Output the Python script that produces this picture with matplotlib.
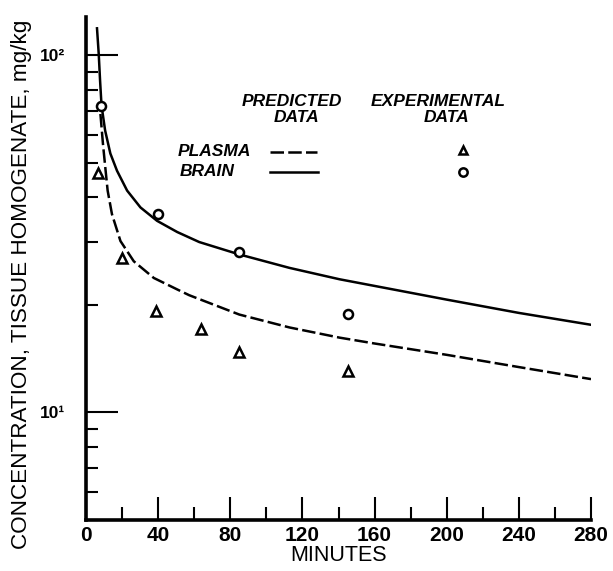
import matplotlib
matplotlib.use("Agg")
import matplotlib.pyplot as plt
from matplotlib.ticker import LogLocator, FixedLocator, NullFormatter, FixedFormatter
import numpy as np

# ---- data ----
brain_t = [6.1, 7.05, 7.8, 8.6, 10.6, 13.5, 17.2, 22.8, 30.2, 39.4, 50.6, 62.8, 85, 112.8, 140.6, 200, 240, 280]
brain_pred = [119, 101, 85, 72.4, 61.6, 53.1, 47.5, 41.8, 37.5, 34.4, 32.0, 30.0, 27.7, 25.4, 23.6, 20.7, 19.0, 17.6]

plasma_t = [8.0, 9.4, 10.7, 12.0, 14.4, 19.1, 26.5, 37.6, 50.6, 57.2, 85, 112.8, 140.6, 160, 200, 240, 280]
plasma_pred = [68.5, 56.5, 48.5, 41.8, 35.9, 30.2, 26.5, 23.8, 22.1, 21.3, 18.8, 17.3, 16.2, 15.6, 14.5, 13.4, 12.4]

brain_exp_t = [8.2, 40, 85, 145]
brain_exp = [72, 36, 28.2, 18.9]

plasma_exp_t = [6.7, 20, 39, 64, 85, 145]
plasma_exp = [46.8, 27.1, 19.2, 17.1, 14.8, 13.1]

x_ticks = [0, 40, 80, 120, 160, 200, 240, 280]
x_minor = [20, 60, 100, 140, 180, 220, 260]
y_ticks = [10, 100]
y_ticklabels = ["10¹", "10²"]

W, H = 613, 571
fig = plt.figure(figsize=(W / 100, H / 100), dpi=100)
ax = fig.add_axes([86 / W, 1 - 520 / H, (591 - 86) / W, (520 - 17) / H])

FONT = "Liberation Sans"
lw = 1.8
DASH = (0, (5.4, 1.7))
ax.plot(brain_t, brain_pred, color="black", lw=lw, solid_joinstyle="round")
ax.plot(plasma_t, plasma_pred, color="black", lw=lw, linestyle=DASH)
ax.plot(brain_exp_t, brain_exp, linestyle="none", marker="o", ms=6.5,
        mfc="white", mec="black", mew=1.8)
ax.plot(plasma_exp_t, plasma_exp, linestyle="none", marker="^", ms=7,
        mfc="white", mec="black", mew=1.8)

ax.set_yscale("log")
ax.set_xlim(0, 280)
ax.set_ylim(5, 128)

for s in ["top", "right"]:
    ax.spines[s].set_visible(False)
for s in ["left", "bottom"]:
    ax.spines[s].set_linewidth(2.6)

ax.xaxis.set_major_locator(FixedLocator(x_ticks))
ax.xaxis.set_minor_locator(FixedLocator(x_minor))
ax.yaxis.set_major_locator(FixedLocator(y_ticks))
ax.yaxis.set_major_formatter(FixedFormatter(y_ticklabels))
ax.yaxis.set_minor_locator(LogLocator(base=10, subs=np.arange(2, 10)))
ax.yaxis.set_minor_formatter(NullFormatter())

ax.tick_params(axis="y", which="major", direction="in", length=23, width=1.5, pad=15)
ax.tick_params(axis="y", which="minor", direction="in", length=8.5, width=1.5)
ax.tick_params(axis="x", which="major", direction="in", length=16.5, width=1.5, pad=4)
ax.tick_params(axis="x", which="minor", direction="in", length=9.5, width=1.5)

for lab in ax.get_xticklabels():
    lab.set_fontfamily(FONT)
    lab.set_fontweight("bold")
    lab.set_fontsize(15)
for lab in ax.get_yticklabels():
    lab.set_fontfamily(FONT)
    lab.set_fontweight("bold")
    lab.set_fontsize(12.5)

ax.set_xlabel("MINUTES", fontfamily=FONT, fontsize=15.5, labelpad=0)
ax.set_ylabel("CONCENTRATION, TISSUE HOMOGENATE, mg/kg", fontfamily=FONT, fontsize=16.2)
ax.yaxis.set_label_coords(-0.107, 0.468)

# ---- legend block ----
def fx(px):
    return px / W
def fy(py):
    return 1 - py / H

lk = dict(fontfamily=FONT, fontweight="bold", fontstyle="italic", fontsize=12.5,
          va="center")
fig.text(fx(292), fy(101), "PREDICTED", ha="center", **lk)
fig.text(fx(296), fy(118), "DATA", ha="center", **lk)
fig.text(fx(438), fy(101), "EXPERIMENTAL", ha="center", **lk)
fig.text(fx(446), fy(118), "DATA", ha="center", **lk)
fig.text(fx(178), fy(152), "PLASMA", ha="left", **lk)
fig.text(fx(180), fy(172), "BRAIN", ha="left", **lk)

tr = fig.transFigure
ax.plot([fx(270), fx(317)], [fy(152), fy(152)], transform=tr, color="black",
        lw=lw, linestyle=DASH, clip_on=False)
ax.plot([fx(270), fx(318)], [fy(172), fy(172)], transform=tr, color="black",
        lw=lw, clip_on=False)
ax.plot([fx(463)], [fy(150)], transform=tr, marker="^", ms=6, mfc="white",
        mec="black", mew=1.8, clip_on=False)
ax.plot([fx(463)], [fy(172)], transform=tr, marker="o", ms=6, mfc="white",
        mec="black", mew=1.8, clip_on=False)

fig.savefig("out.png", dpi=100)
